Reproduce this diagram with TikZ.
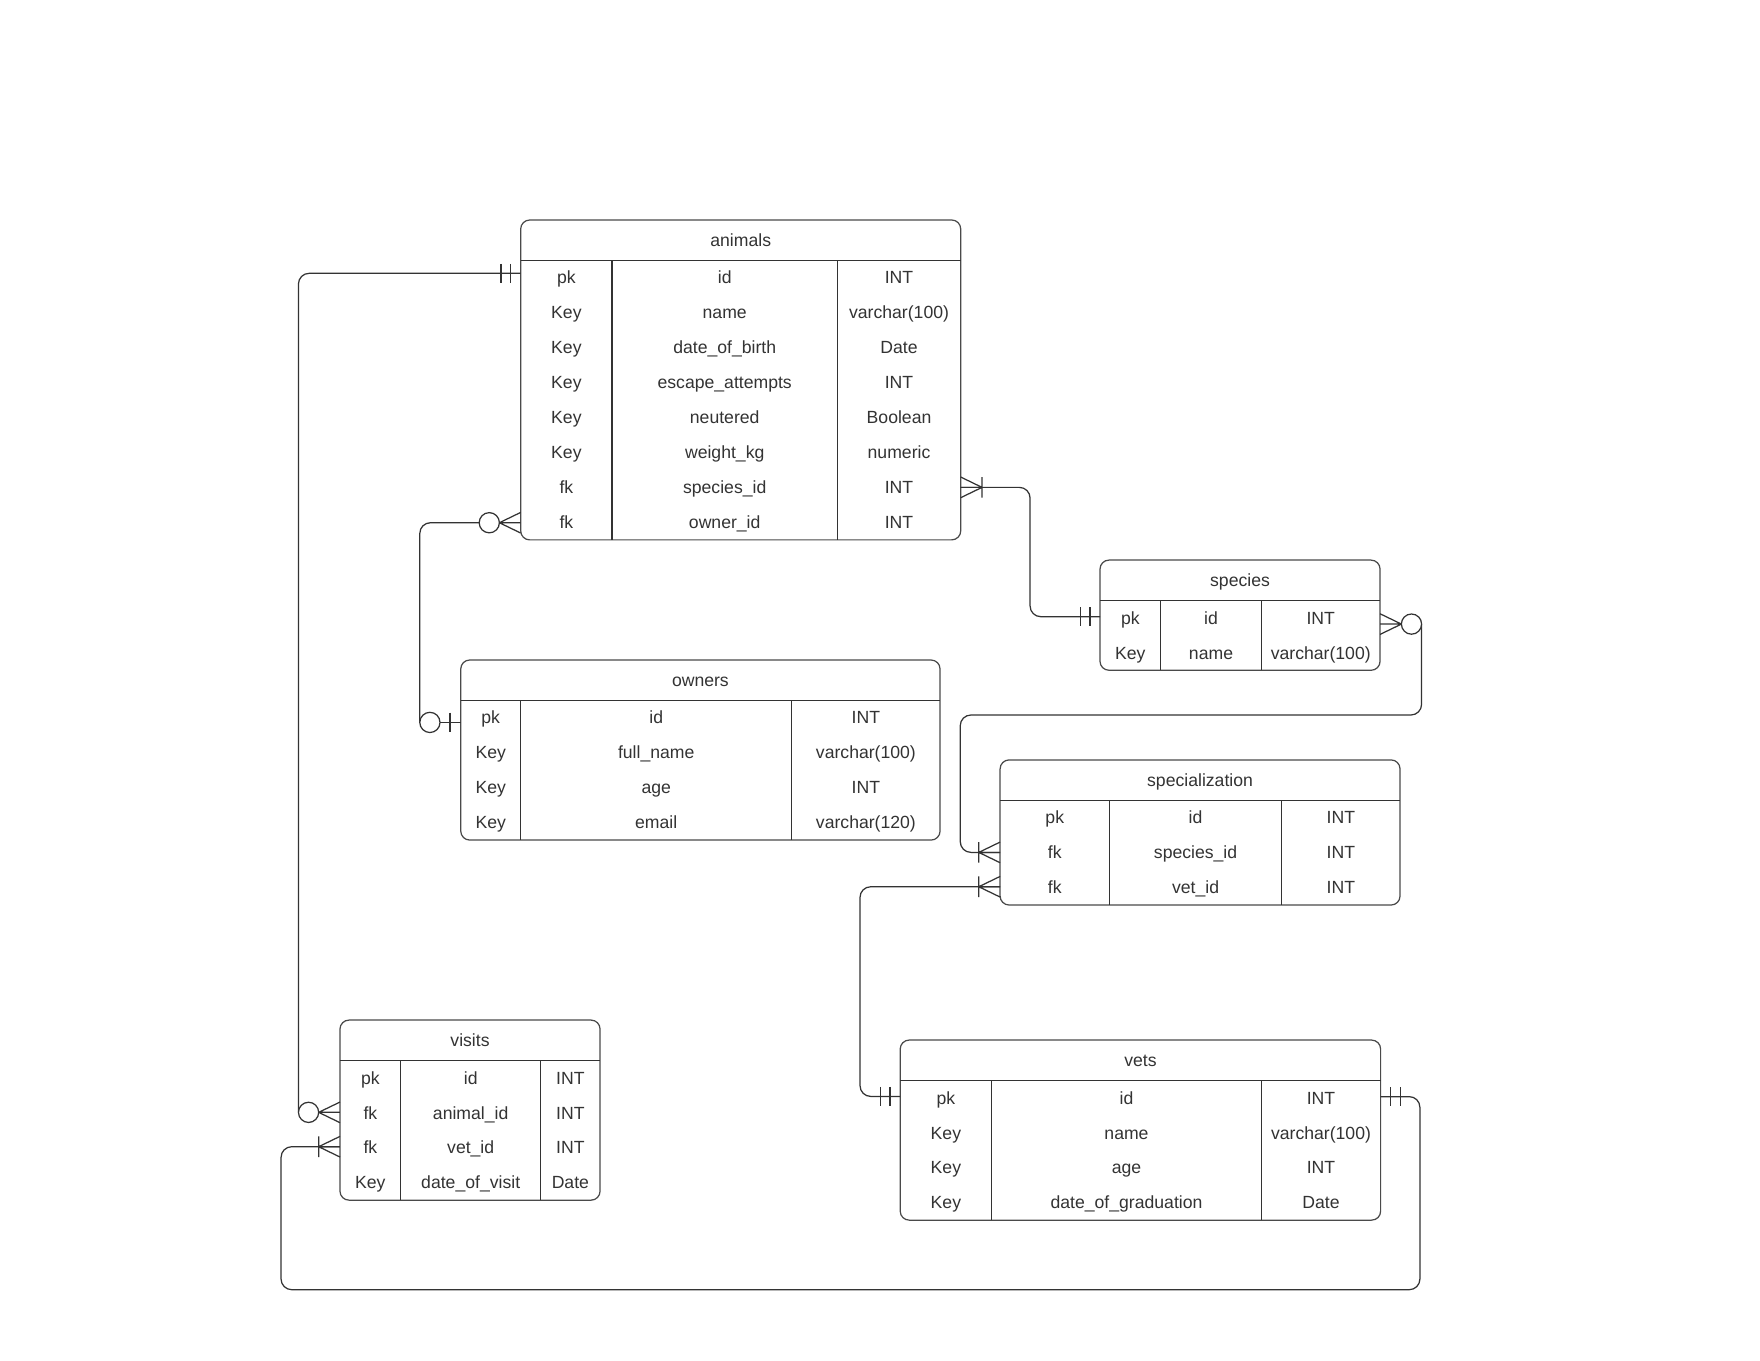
\documentclass[tikz,border=0pt]{standalone}
\usepackage{fontspec}
\setmainfont{Liberation Sans}
\usetikzlibrary{calc}

\definecolor{ink}{HTML}{333333}
\definecolor{frame}{HTML}{4A4A4A}

\tikzset{
  tablebox/.style={draw=frame, fill=white, line width=1.1pt, rounded corners=8pt,
    inner sep=0pt, outer sep=0pt, anchor=north west},
  rule/.style={draw=ink, line width=1.1pt},
  cell/.style={anchor=base, inner sep=0pt, text=ink, font=\fontsize{15.7}{19}\selectfont},
  rel/.style={draw=ink, line width=1.1pt},
  link/.style={rel, rounded corners=9.5pt},
}

% table: name, left, top, right, first split, second split, number of rows, title
\newcommand\ertable[8]{%
  \pgfmathsetmacro\erH{35.86+31.14*#7}%
  \def\erL{#2}\def\erT{#3}\def\erR{#4}\def\erA{#5}\def\erC{#6}\def\erN{#1}%
  \node[tablebox, minimum width={(#4-#2)*1pt}, minimum height={\erH*1pt}] (#1) at (#2,#3) {};
  \draw[rule] (#2,#3+36) -- (#4,#3+36);
  \draw[rule] (#5,#3+36) -- (#5,#3+\erH);
  \draw[rule] (#6,#3+36) -- (#6,#3+\erH);
  \node[cell] (#1-title) at ({(#2+#4)/2},#3+23.8) {#8};
}
% row: index, key kind, field, type
\newcommand\errow[4]{%
  \pgfmathsetmacro\erY{\erT+57+31.14*(#1-1)}%
  \node[cell] (\erN-k#1) at ({(\erL+\erA)/2},\erY) {#2};
  \node[cell] (\erN-f#1) at ({(\erA+\erC)/2},\erY) {#3};
  \node[cell] (\erN-t#1) at ({(\erC+\erR)/2},\erY) {#4};
}

% relationship ends; #2 = 1 when the table lies to the right, -1 when to the left
\newcommand\relone[2]{%
  \begin{scope}[shift={(#1)},xscale=#2]
    \draw[rel] (-9,-8.5) -- (-9,8.5) (-17.5,-8.5) -- (-17.5,8.5);
  \end{scope}}
\newcommand\relmany[2]{%
  \begin{scope}[shift={(#1)},xscale=#2]
    \draw[rel] (0,-9.2) -- (-19,0) -- (0,9.2) (0,0) -- (-19,0) (-19,-9.2) -- (-19,9.2);
  \end{scope}}
\newcommand\relzeromany[2]{%
  \begin{scope}[shift={(#1)},xscale=#2]
    \draw[rel] (0,-9.2) -- (-19,0) -- (0,9.2) (0,0) -- (-19,0);
    \draw[rel, fill=white] (-28,0) circle[radius=9pt];
  \end{scope}}
\newcommand\relzeroone[2]{%
  \begin{scope}[shift={(#1)},xscale=#2]
    \draw[rel] (0,0) -- (-18.5,0) (-9.5,-8.8) -- (-9.5,8.8);
    \draw[rel, fill=white] (-27.5,0) circle[radius=9pt];
  \end{scope}}

\begin{document}
\begin{tikzpicture}[x=1pt, y=-1pt]
\fill[white] (0,0) rectangle (1568,1212);
\useasboundingbox (0,0) rectangle (1568,1212);

% ---- tables ----
\ertable{animals}{463.9}{196}{855.9}{545.3}{746}{8}{animals}
\errow{1}{pk}{id}{INT}
\errow{2}{Key}{name}{varchar(100)}
\errow{3}{Key}{date\_of\_birth}{Date}
\errow{4}{Key}{escape\_attempts}{INT}
\errow{5}{Key}{neutered}{Boolean}
\errow{6}{Key}{weight\_kg}{numeric}
\errow{7}{fk}{species\_id}{INT}
\errow{8}{fk}{owner\_id}{INT}

\ertable{species}{980}{499}{1229.5}{1034}{1123.8}{2}{species}
\errow{1}{pk}{id}{INT}
\errow{2}{Key}{name}{varchar(100)}

\ertable{owners}{410.5}{588}{837.5}{463.9}{705.4}{4}{owners}
\errow{1}{pk}{id}{INT}
\errow{2}{Key}{full\_name}{varchar(100)}
\errow{3}{Key}{age}{INT}
\errow{4}{Key}{email}{varchar(120)}

\ertable{specialization}{891}{677}{1247.3}{988.4}{1141.9}{3}{specialization}
\errow{1}{pk}{id}{INT}
\errow{2}{fk}{species\_id}{INT}
\errow{3}{fk}{vet\_id}{INT}

\ertable{visits}{302.9}{908.8}{534.6}{357}{481.7}{4}{visits}
\errow{1}{pk}{id}{INT}
\errow{2}{fk}{animal\_id}{INT}
\errow{3}{fk}{vet\_id}{INT}
\errow{4}{Key}{date\_of\_visit}{Date}

\ertable{vets}{802}{926.6}{1230}{883.4}{1123.8}{4}{vets}
\errow{1}{pk}{id}{INT}
\errow{2}{Key}{name}{varchar(100)}
\errow{3}{Key}{age}{INT}
\errow{4}{Key}{date\_of\_graduation}{Date}

% ---- attachment points ----
\coordinate (anim-pk)      at ($(animals.north west)+(0,47.5)$);
\coordinate (anim-owner)   at ($(animals.north west)+(0,269.7)$);
\coordinate (anim-species) at ($(animals.north east)+(0,238.2)$);
\coordinate (sp-pk)        at ($(species.north west)+(0,50.4)$);
\coordinate (sp-spec)      at ($(species.north east)+(0,57)$);
\coordinate (own-pk)       at ($(owners.north west)+(0,55.6)$);
\coordinate (spec-species) at ($(specialization.north west)+(0,82.4)$);
\coordinate (spec-vet)     at ($(specialization.north west)+(0,113)$);
\coordinate (vets-pk-w)    at ($(vets.north west)+(0,50.2)$);
\coordinate (vets-pk-e)    at ($(vets.north east)+(0,50.4)$);
\coordinate (visits-animal) at ($(visits.north west)+(0,82.2)$);
\coordinate (visits-vet)   at ($(visits.north west)+(0,112.8)$);

% outer points of the circles, where the lines meet them
\coordinate (anim-owner-o)    at ($(anim-owner)+(-37,0)$);
\coordinate (own-pk-o)        at ($(own-pk)+(-36.5,0)$);
\coordinate (sp-spec-o)       at ($(sp-spec)+(37,0)$);
\coordinate (visits-animal-o) at ($(visits-animal)+(-37,0)$);

% ---- connectors ----
\draw[link] (anim-pk) -| (visits-animal-o);
\draw[link] (anim-owner-o) -| (own-pk-o);
\draw[link] (anim-species) -- ++(61.8,0) |- (sp-pk);
\draw[link] (sp-spec-o) -- ++(0,81) -| ($(spec-species)+(-35.5,0)$) -- (spec-species);
\draw[link] (spec-vet) -- ++(-124.8,0) |- (vets-pk-w);
\draw[link] (vets-pk-e) -- ++(35,0) -- ++(0,172) -| ($(visits-vet)+(-52.5,0)$) -- (visits-vet);

% ---- relationship ends ----
\relone{anim-pk}{1}
\relzeromany{visits-animal}{1}
\relzeromany{anim-owner}{1}
\relzeroone{own-pk}{1}
\relmany{anim-species}{-1}
\relone{sp-pk}{1}
\relzeromany{sp-spec}{-1}
\relmany{spec-species}{1}
\relmany{spec-vet}{1}
\relone{vets-pk-w}{1}
\relone{vets-pk-e}{-1}
\relmany{visits-vet}{1}
\end{tikzpicture}
\end{document}
